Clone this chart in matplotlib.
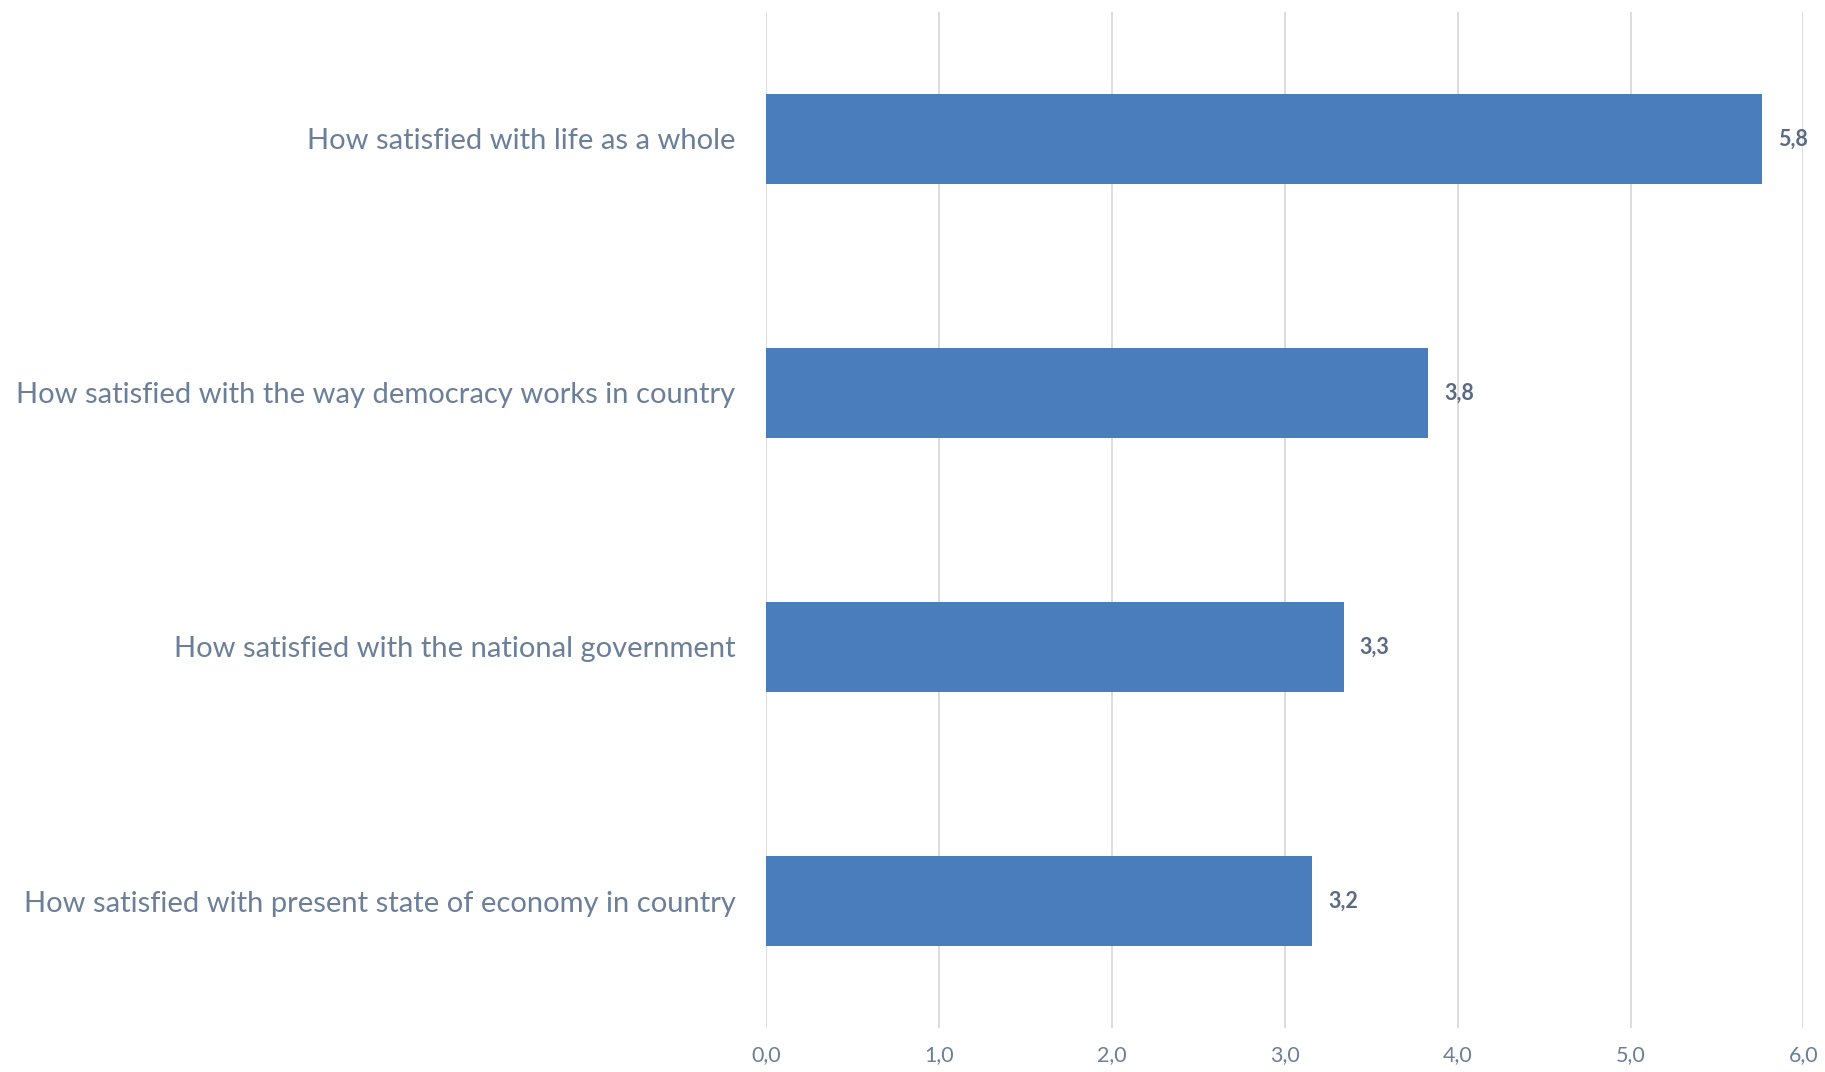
import matplotlib
matplotlib.use("Agg")
from matplotlib import pyplot as plt

# data (bottom to top)
questions = [
    "How satisfied with present state of economy in country",
    "How satisfied with the national government",
    "How satisfied with the way democracy works in country",
    "How satisfied with life as a whole",
]
scores = [3.16, 3.34, 3.83, 5.76]
x_ticks = [0, 1, 2, 3, 4, 5, 6]

bar_color = "#4a7dbb"
text_color = "#6b7f99"
label_color = "#596a82"

plt.rcParams["font.family"] = ["Lato", "DejaVu Sans"]

fig = plt.figure(figsize=(18.25, 10.72), dpi=100)
ax = fig.add_axes([0.4197, 0.041, 0.5685, 0.948])

ypos = list(range(len(questions)))
ax.barh(ypos, scores, height=0.355, color=bar_color, zorder=3)

for y, v in zip(ypos, scores):
    ax.annotate(f"{v:.1f}".replace(".", ","), xy=(v, y), xytext=(11.5, 0),
                textcoords="offset points", va="center", ha="left",
                fontsize=15.5, fontweight="bold", color=label_color)

ax.set_xlim(0, 6)
ax.set_ylim(-0.5, 3.5)
ax.set_xticks(x_ticks)
ax.set_xticklabels([f"{t:.1f}".replace(".", ",") for t in x_ticks],
                   fontsize=15.5, color=text_color)
ax.set_yticks(ypos)
ax.set_yticklabels(questions, fontsize=21, color=text_color)
ax.tick_params(axis="both", length=0)
ax.tick_params(axis="y", pad=22)
ax.tick_params(axis="x", pad=12)

ax.grid(axis="x", color="#d9d9d9", linewidth=1.3, zorder=0)
for s in ax.spines.values():
    s.set_visible(False)

fig.savefig("out.png", dpi=100)
